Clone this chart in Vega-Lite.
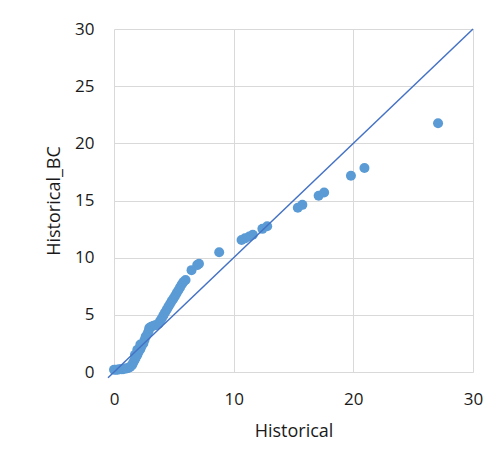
{
  "$schema": "https://vega.github.io/schema/vega-lite/v6.json",
  "width": 359,
  "height": 343,
  "autosize": {"type": "none"},
  "padding": {"left": 114, "top": 29, "right": 16, "bottom": 93},
  "background": "white",
  "config": {
    "view": {"stroke": null},
    "font": "Open Sans",
    "axis": {
      "domain": false,
      "ticks": false,
      "grid": true,
      "gridColor": "#d9d9d9",
      "gridWidth": 1,
      "labelFlush": false,
      "labelFont": "Open Sans",
      "labelFontSize": 17,
      "labelColor": "#1a1a1a",
      "titleFont": "Open Sans",
      "titleFontSize": 18,
      "titleFontWeight": "normal",
      "titleColor": "#1a1a1a"
    }
  },
  "datasets": {
    "pts": [
      {"Historical": 0.0, "Historical_BC": 0.2},
      {"Historical": 0.15, "Historical_BC": 0.2},
      {"Historical": 0.3, "Historical_BC": 0.2},
      {"Historical": 0.45, "Historical_BC": 0.25},
      {"Historical": 0.6, "Historical_BC": 0.25},
      {"Historical": 0.75, "Historical_BC": 0.25},
      {"Historical": 0.9, "Historical_BC": 0.3},
      {"Historical": 1.05, "Historical_BC": 0.3},
      {"Historical": 1.2, "Historical_BC": 0.35},
      {"Historical": 1.35, "Historical_BC": 0.45},
      {"Historical": 1.5, "Historical_BC": 0.6},
      {"Historical": 1.6, "Historical_BC": 0.8},
      {"Historical": 1.7, "Historical_BC": 1.0},
      {"Historical": 1.8, "Historical_BC": 1.2},
      {"Historical": 1.75, "Historical_BC": 1.5},
      {"Historical": 1.95, "Historical_BC": 1.5},
      {"Historical": 2.05, "Historical_BC": 1.75},
      {"Historical": 1.95, "Historical_BC": 1.95},
      {"Historical": 2.2, "Historical_BC": 2.0},
      {"Historical": 2.3, "Historical_BC": 2.25},
      {"Historical": 2.2, "Historical_BC": 2.4},
      {"Historical": 2.45, "Historical_BC": 2.5},
      {"Historical": 2.55, "Historical_BC": 2.8},
      {"Historical": 2.65, "Historical_BC": 3.1},
      {"Historical": 2.8, "Historical_BC": 3.35},
      {"Historical": 2.9, "Historical_BC": 3.6},
      {"Historical": 2.95, "Historical_BC": 3.85},
      {"Historical": 3.1, "Historical_BC": 3.95},
      {"Historical": 3.3, "Historical_BC": 4.05},
      {"Historical": 3.5, "Historical_BC": 4.1},
      {"Historical": 3.7, "Historical_BC": 4.2},
      {"Historical": 3.85, "Historical_BC": 4.45},
      {"Historical": 4.0, "Historical_BC": 4.7},
      {"Historical": 4.13, "Historical_BC": 4.95},
      {"Historical": 4.26, "Historical_BC": 5.2},
      {"Historical": 4.4, "Historical_BC": 5.45},
      {"Historical": 4.54, "Historical_BC": 5.7},
      {"Historical": 4.68, "Historical_BC": 5.95},
      {"Historical": 4.82, "Historical_BC": 6.2},
      {"Historical": 4.96, "Historical_BC": 6.41},
      {"Historical": 5.1, "Historical_BC": 6.65},
      {"Historical": 5.24, "Historical_BC": 6.9},
      {"Historical": 5.38, "Historical_BC": 7.15},
      {"Historical": 5.52, "Historical_BC": 7.4},
      {"Historical": 5.66, "Historical_BC": 7.65},
      {"Historical": 5.8, "Historical_BC": 7.87},
      {"Historical": 5.98, "Historical_BC": 8.05},
      {"Historical": 6.48, "Historical_BC": 8.91},
      {"Historical": 6.95, "Historical_BC": 9.35},
      {"Historical": 7.1, "Historical_BC": 9.47},
      {"Historical": 8.79, "Historical_BC": 10.48},
      {"Historical": 10.66, "Historical_BC": 11.54},
      {"Historical": 10.94, "Historical_BC": 11.69},
      {"Historical": 11.3, "Historical_BC": 11.85},
      {"Historical": 11.6, "Historical_BC": 12.0},
      {"Historical": 12.4, "Historical_BC": 12.52},
      {"Historical": 12.8, "Historical_BC": 12.75},
      {"Historical": 15.36, "Historical_BC": 14.36},
      {"Historical": 15.74, "Historical_BC": 14.62},
      {"Historical": 17.1, "Historical_BC": 15.42},
      {"Historical": 17.56, "Historical_BC": 15.7},
      {"Historical": 19.8, "Historical_BC": 17.16},
      {"Historical": 20.93, "Historical_BC": 17.84},
      {"Historical": 27.08, "Historical_BC": 21.76}
    ],
    "diag": [
      {"Historical": -0.5, "Historical_BC": -0.5},
      {"Historical": 30, "Historical_BC": 30}
    ]
  },
  "layer": [
    {
      "data": {"name": "pts"},
      "mark": {"type": "circle", "size": 100, "color": "#5b9bd5", "opacity": 1},
      "encoding": {
        "x": {
          "field": "Historical", "type": "quantitative",
          "scale": {"domain": [0, 30], "nice": false, "zero": false},
          "axis": {"values": [0, 10, 20, 30], "title": "Historical", "labelPadding": 19, "titlePadding": 15}
        },
        "y": {
          "field": "Historical_BC", "type": "quantitative",
          "scale": {"domain": [0, 30], "nice": false, "zero": false},
          "axis": {"values": [0, 5, 10, 15, 20, 25, 30], "title": "Historical_BC", "labelPadding": 20, "titlePadding": 11}
        }
      }
    },
    {
      "data": {"name": "diag"},
      "mark": {"type": "line", "color": "#4472c4", "strokeWidth": 1.5, "clip": false},
      "encoding": {
        "x": {"field": "Historical", "type": "quantitative"},
        "y": {"field": "Historical_BC", "type": "quantitative"}
      }
    }
  ]
}
